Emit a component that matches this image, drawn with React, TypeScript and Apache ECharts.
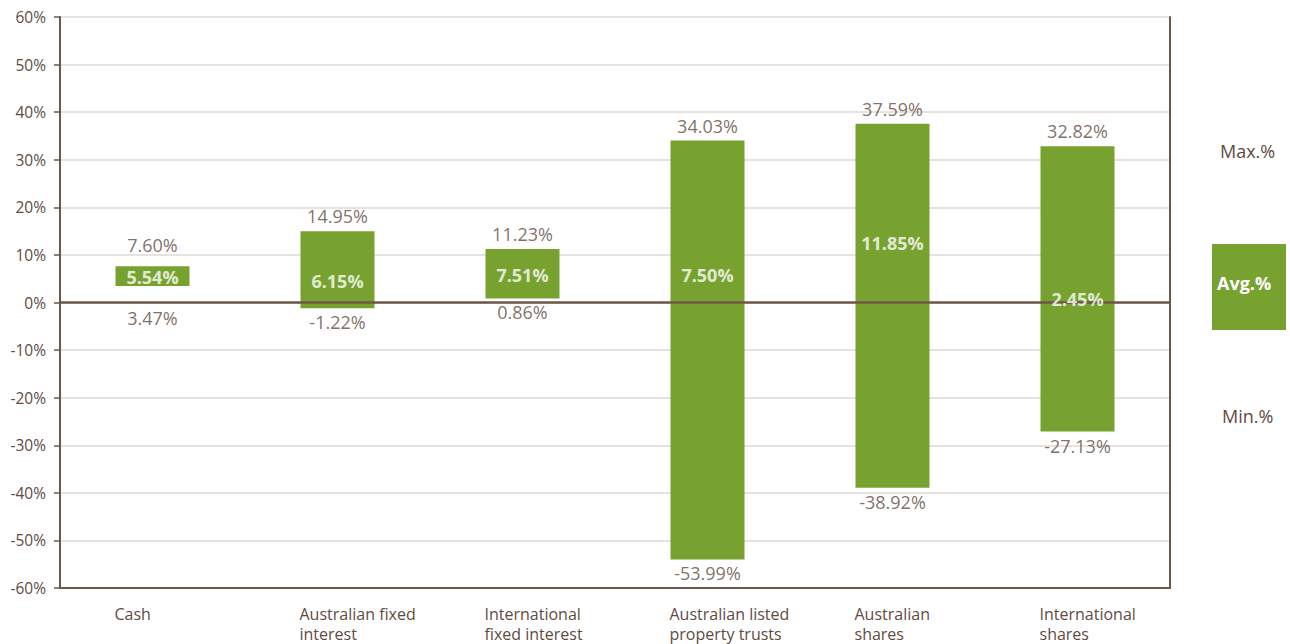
import React, { useEffect, useRef } from "react";
import * as echarts from "echarts";

const categories = [
  "Cash",
  "Australian fixed\ninterest",
  "International\nfixed interest",
  "Australian listed\nproperty trusts",
  "Australian\nshares",
  "International\nshares",
];
const maxValues = [7.6, 14.95, 11.23, 34.03, 37.59, 32.82];
const minValues = [3.47, -1.22, 0.86, -53.99, -38.92, -27.13];
const avgValues = [5.54, 6.15, 7.51, 7.5, 11.85, 2.45];
const yTicks = [-60, -50, -40, -30, -20, -10, 0, 10, 20, 30, 40, 50, 60];

const GREEN = "#77a22f";
const TEXT = "#5f4b3f";
const AXIS = "#6e5749";
const GRID = "#e8e2de";
const FONT = "'Open Sans', sans-serif";

export default function App() {
  const ref = useRef<HTMLDivElement>(null);
  useEffect(() => {
    if (!ref.current) return;
    const chart = echarts.init(ref.current, undefined, { renderer: "svg" });
    const fmt = (v: number) => v.toFixed(2) + "%";
    chart.setOption({
      animation: false,
      textStyle: { fontFamily: FONT },
      grid: { left: 60, right: 120, top: 17, bottom: 55, containLabel: false },
      xAxis: {
        type: "category",
        data: categories,
        axisLine: { onZero: false, lineStyle: { color: AXIS, width: 2 } },
        axisTick: { show: false },
        axisLabel: {
          color: TEXT,
          fontSize: 16,
          fontFamily: FONT,
          lineHeight: 20,
          margin: 16,
          interval: 0,
          formatter: (v: string) =>
            v
              .split("\n")
              .map((s) => "{l|" + s + "}")
              .join("\n"),
          rich: {
            l: {
              width: 76,
              align: "left",
              color: TEXT,
              fontSize: 16,
              fontFamily: FONT,
              lineHeight: 20,
            },
          },
        },
      },
      yAxis: [
        {
          type: "value",
          min: -60,
          max: 60,
          interval: 10,
          axisLine: { show: true, lineStyle: { color: AXIS, width: 2 } },
          axisTick: { show: true, length: 6, lineStyle: { color: AXIS, width: 1.5 } },
          axisLabel: {
            color: TEXT,
            fontSize: 15.5,
            fontFamily: FONT,
            margin: 14,
            formatter: (v: number) => (yTicks.includes(v) ? v + "%" : ""),
          },
          splitLine: { show: true, lineStyle: { color: GRID, width: 2 } },
        },
        {
          type: "value",
          position: "right",
          min: -60,
          max: 60,
          interval: 10,
          axisLine: { show: true, lineStyle: { color: AXIS, width: 2 } },
          axisTick: { show: false },
          axisLabel: { show: false },
          splitLine: { show: false },
        },
      ],
      series: [
        {
          type: "line",
          data: [],
          z: 1,
          markLine: {
            silent: true,
            symbol: "none",
            label: { show: false },
            lineStyle: { color: AXIS, width: 2.5, type: "solid" },
            data: [{ yAxis: 0 }],
          },
        },
        {
          type: "custom",
          z: 3,
          data: categories.map((_, i) => [i, minValues[i], maxValues[i]]),
          renderItem: (params: any, api: any) => {
            const i = api.value(0);
            const lo = api.coord([i, api.value(1)]);
            const hi = api.coord([i, api.value(2)]);
            const w = api.size([1, 0])[0] * 0.4;
            return {
              type: "rect",
              shape: { x: lo[0] - w / 2, y: hi[1], width: w, height: lo[1] - hi[1] },
              style: { fill: GREEN },
            };
          },
        },
        {
          type: "scatter",
          z: 4,
          symbolSize: 0,
          data: maxValues.map((v, i) =>
            i === 0 ? { value: v, label: { distance: 12 } } : v
          ),
          label: {
            show: true,
            position: "top",
            distance: 6,
            color: TEXT,
            fontSize: 18,
            fontFamily: FONT,
            formatter: (p: any) => fmt(p.value),
          },
        },
        {
          type: "scatter",
          z: 4,
          symbolSize: 0,
          data: minValues.map((v, i) =>
            i === 0 ? { value: v, label: { distance: 23 } } : v
          ),
          label: {
            show: true,
            position: "bottom",
            distance: 5,
            color: TEXT,
            fontSize: 18,
            fontFamily: FONT,
            formatter: (p: any) => fmt(p.value),
          },
        },
        {
          type: "scatter",
          z: 5,
          symbolSize: 0,
          data: avgValues.map((v, i) =>
            i === 4
              ? { value: v, label: { offset: [0, -3] } }
              : i === 0
              ? { value: v, label: { offset: [0, 1] } }
              : v
          ),
          label: {
            show: true,
            position: "inside",
            offset: [0, 8],
            color: "#ffffff",
            fontSize: 18,
            fontWeight: "bold",
            fontFamily: FONT,
            formatter: (p: any) => fmt(p.value),
          },
        },
      ],
      graphic: [
        {
          type: "text",
          left: 1220,
          top: 142,
          style: { text: "Max.%", fill: TEXT, fontSize: 18, fontFamily: FONT },
        },
        {
          type: "rect",
          left: 1212,
          top: 244,
          shape: { width: 74, height: 86 },
          style: { fill: GREEN },
        },
        {
          type: "text",
          left: 1217,
          top: 274,
          style: { text: "Avg.%", fill: "#ffffff", fontSize: 18, fontWeight: "bold", fontFamily: FONT },
        },
        {
          type: "text",
          left: 1222,
          top: 407,
          style: { text: "Min.%", fill: TEXT, fontSize: 18, fontFamily: FONT },
        },
      ],
    });
    return () => chart.dispose();
  }, []);
  return <div ref={ref} style={{ width: 1290, height: 644, position: "absolute", left: 0, top: 0 }} />;
}
